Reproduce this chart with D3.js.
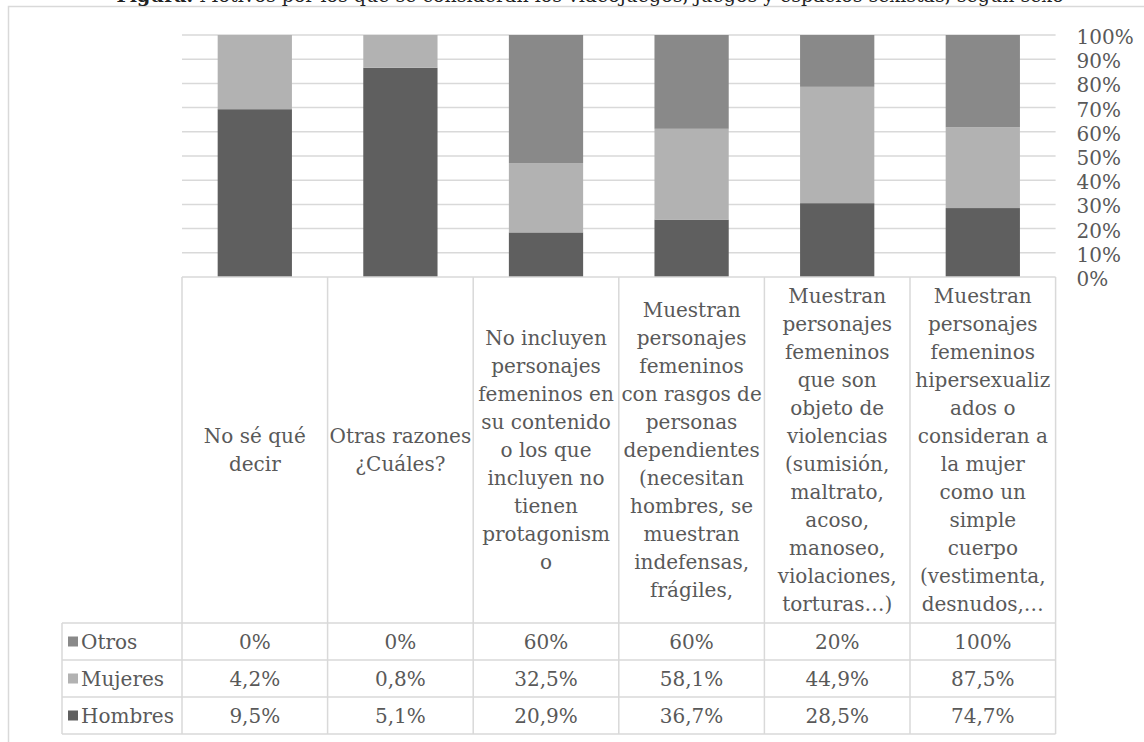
<!DOCTYPE html>
<html>
<head>
<meta charset="utf-8">
<script src="https://cdn.jsdelivr.net/npm/d3@7"></script>
<style>
    body { margin: 0; background: #ffffff; }
    svg text { font-family: 'DejaVu Serif', serif; }
</style>
</head>
<body>
<div id="chart"></div>
<script>
var categories = [
    ['No sé qué', 'decir'],
    ['Otras razones', '¿Cuáles?'],
    ['No incluyen', 'personajes', 'femeninos en', 'su contenido', 'o los que', 'incluyen no', 'tienen', 'protagonism', 'o'],
    ['Muestran', 'personajes', 'femeninos', 'con rasgos de', 'personas', 'dependientes', '(necesitan', 'hombres, se', 'muestran', 'indefensas,', 'frágiles,'],
    ['Muestran', 'personajes', 'femeninos', 'que son', 'objeto de', 'violencias', '(sumisión,', 'maltrato,', 'acoso,', 'manoseo,', 'violaciones,', 'torturas…)'],
    ['Muestran', 'personajes', 'femeninos', 'hipersexualiz', 'ados o', 'consideran a', 'la mujer', 'como un', 'simple', 'cuerpo', '(vestimenta,', 'desnudos,…']
];
var seriesNames = ['Hombres', 'Mujeres', 'Otros'];
var hombres = [9.5, 5.1, 20.9, 36.7, 28.5, 74.7];
var mujeres = [4.2, 0.8, 32.5, 58.1, 44.9, 87.5];
var otros = [0, 0, 60, 60, 20, 100];
var yTicks = [0, 0.1, 0.2, 0.3, 0.4, 0.5, 0.6, 0.7, 0.8, 0.9, 1];
var titleLead = 'Figura.';
var title = ' Motivos por los que se consideran los videojuegos, juegos y espacios sexistas, según sexo';

var colors = {
    Hombres: '#5f5f5f',
    Mujeres: '#b2b2b2',
    Otros: '#898989'
};
var textColor = '#595959';
var lineColor = '#d9d9d9';

var width = 1144;
var height = 742;

var svg = d3.select('#chart')
    .append('svg')
    .attr('width', width)
    .attr('height', height);

// chart border (runs off the picture on the right and bottom)
svg.append('rect')
    .attr('x', 8.5)
    .attr('y', 6.5)
    .attr('width', 1160)
    .attr('height', 760)
    .style('fill', 'none')
    .style('stroke', lineColor)
    .style('stroke-width', 1.5);

// caption, mostly above the top edge as in the source picture
var cap = svg.append('text')
    .attr('x', 590)
    .attr('y', 2)
    .attr('text-anchor', 'middle')
    .style('font-size', '19px')
    .style('fill', '#222222');
cap.append('tspan')
    .style('font-weight', 'bold')
    .text(titleLead);
cap.append('tspan')
    .text(title);

var rows = categories.map(function (c, i) {
    return {
        id: i,
        Hombres: hombres[i],
        Mujeres: mujeres[i],
        Otros: otros[i]
    };
});

var plotLeft = 182;
var plotRight = 1055.6;
var plotTop = 35;
var plotBottom = 277;

var x = d3.scaleBand()
    .domain(d3.range(categories.length))
    .range([plotLeft, plotRight])
    .paddingInner(0.49)
    .paddingOuter(0.245);

var col = d3.scaleBand()
    .domain(d3.range(categories.length))
    .range([plotLeft, plotRight]);

var y = d3.scaleLinear()
    .domain([0, 1])
    .range([plotBottom, plotTop]);

// gridlines
svg.append('g')
    .selectAll('line')
    .data(yTicks.slice(1))
    .enter()
    .append('line')
    .attr('x1', plotLeft)
    .attr('x2', plotRight)
    .attr('y1', function (d) { return y(d); })
    .attr('y2', function (d) { return y(d); })
    .style('stroke', lineColor)
    .style('stroke-width', 1.5);

// stacked bars
var stacked = d3.stack()
    .keys(seriesNames)
    .offset(d3.stackOffsetExpand)(rows);

svg.append('g')
    .selectAll('g')
    .data(stacked)
    .enter()
    .append('g')
    .attr('fill', function (s) { return colors[s.key]; })
    .selectAll('rect')
    .data(function (s) { return s; })
    .enter()
    .append('rect')
    .attr('x', function (d) { return x(d.data.id); })
    .attr('width', x.bandwidth())
    .attr('y', function (d) { return y(d[1]); })
    .attr('height', function (d) { return y(d[0]) - y(d[1]); });

// right axis
var axis = svg.append('g')
    .attr('transform', 'translate(' + plotRight + ',2)')
    .call(d3.axisRight(y)
        .tickValues(yTicks)
        .tickSize(0)
        .tickPadding(21)
        .tickFormat(d3.format('.0%')));
axis.select('.domain').remove();
axis.selectAll('text')
    .style('font-family', "'DejaVu Serif', serif")
    .style('font-size', '20px')
    .style('fill', textColor);

// data table
var headerBottom = 623;
var rowH = 37;
var legendLeft = 62;
var lineH = 28;
var tableRows = ['Otros', 'Mujeres', 'Hombres'];
var tableBottom = headerBottom + rowH * tableRows.length;

var table = svg.append('g')
    .style('stroke', lineColor)
    .style('stroke-width', 1.5);

table.append('line')
    .attr('x1', plotLeft).attr('x2', plotRight)
    .attr('y1', plotBottom).attr('y2', plotBottom);

table.selectAll('.hline')
    .data(d3.range(tableRows.length + 1))
    .enter()
    .append('line')
    .attr('class', 'hline')
    .attr('x1', legendLeft).attr('x2', plotRight)
    .attr('y1', function (d) { return headerBottom + d * rowH; })
    .attr('y2', function (d) { return headerBottom + d * rowH; });

table.selectAll('.vline')
    .data(d3.range(categories.length + 1))
    .enter()
    .append('line')
    .attr('class', 'vline')
    .attr('x1', function (d) { return plotLeft + d * col.step(); })
    .attr('x2', function (d) { return plotLeft + d * col.step(); })
    .attr('y1', plotBottom).attr('y2', tableBottom);

table.append('line')
    .attr('x1', legendLeft).attr('x2', legendLeft)
    .attr('y1', headerBottom).attr('y2', tableBottom);

// header labels, centred in the tall cell
var headerMid = (plotBottom + headerBottom) / 2;
svg.append('g')
    .selectAll('text')
    .data(categories)
    .enter()
    .append('text')
    .attr('text-anchor', 'middle')
    .style('font-size', '20px')
    .style('fill', textColor)
    .each(function (lines, i) {
        var t = d3.select(this);
        var start = headerMid - (lines.length - 1) * lineH / 2;
        lines.forEach(function (l, k) {
            t.append('tspan')
                .attr('x', col(i) + col.bandwidth() / 2)
                .attr('y', start + k * lineH)
                .attr('dy', '0.35em')
                .text(l);
        });
    });

var fmt = d3.formatLocale({ decimal: ',', thousands: '.', grouping: [3], currency: ['', '€'] });
function pct(v) {
    return (v % 1 === 0 ? fmt.format('d')(v) : fmt.format('.1f')(v)) + '%';
}

var seriesValues = { Otros: otros, Mujeres: mujeres, Hombres: hombres };

var tr = svg.append('g')
    .selectAll('g')
    .data(tableRows)
    .enter()
    .append('g')
    .attr('transform', function (d, i) {
        return 'translate(0,' + (headerBottom + i * rowH + rowH / 2) + ')';
    });

tr.append('rect')
    .attr('x', 68)
    .attr('y', -5)
    .attr('width', 10)
    .attr('height', 10)
    .attr('fill', function (d) { return colors[d]; });

tr.append('text')
    .attr('x', 81)
    .attr('dy', '0.35em')
    .style('font-size', '20px')
    .style('fill', textColor)
    .text(function (d) { return d; });

tr.selectAll('.cell')
    .data(function (d) { return seriesValues[d]; })
    .enter()
    .append('text')
    .attr('class', 'cell')
    .attr('x', function (v, i) { return col(i) + col.bandwidth() / 2; })
    .attr('dy', '0.35em')
    .attr('text-anchor', 'middle')
    .style('font-size', '20px')
    .style('fill', textColor)
    .text(pct);
</script>
</body>
</html>
